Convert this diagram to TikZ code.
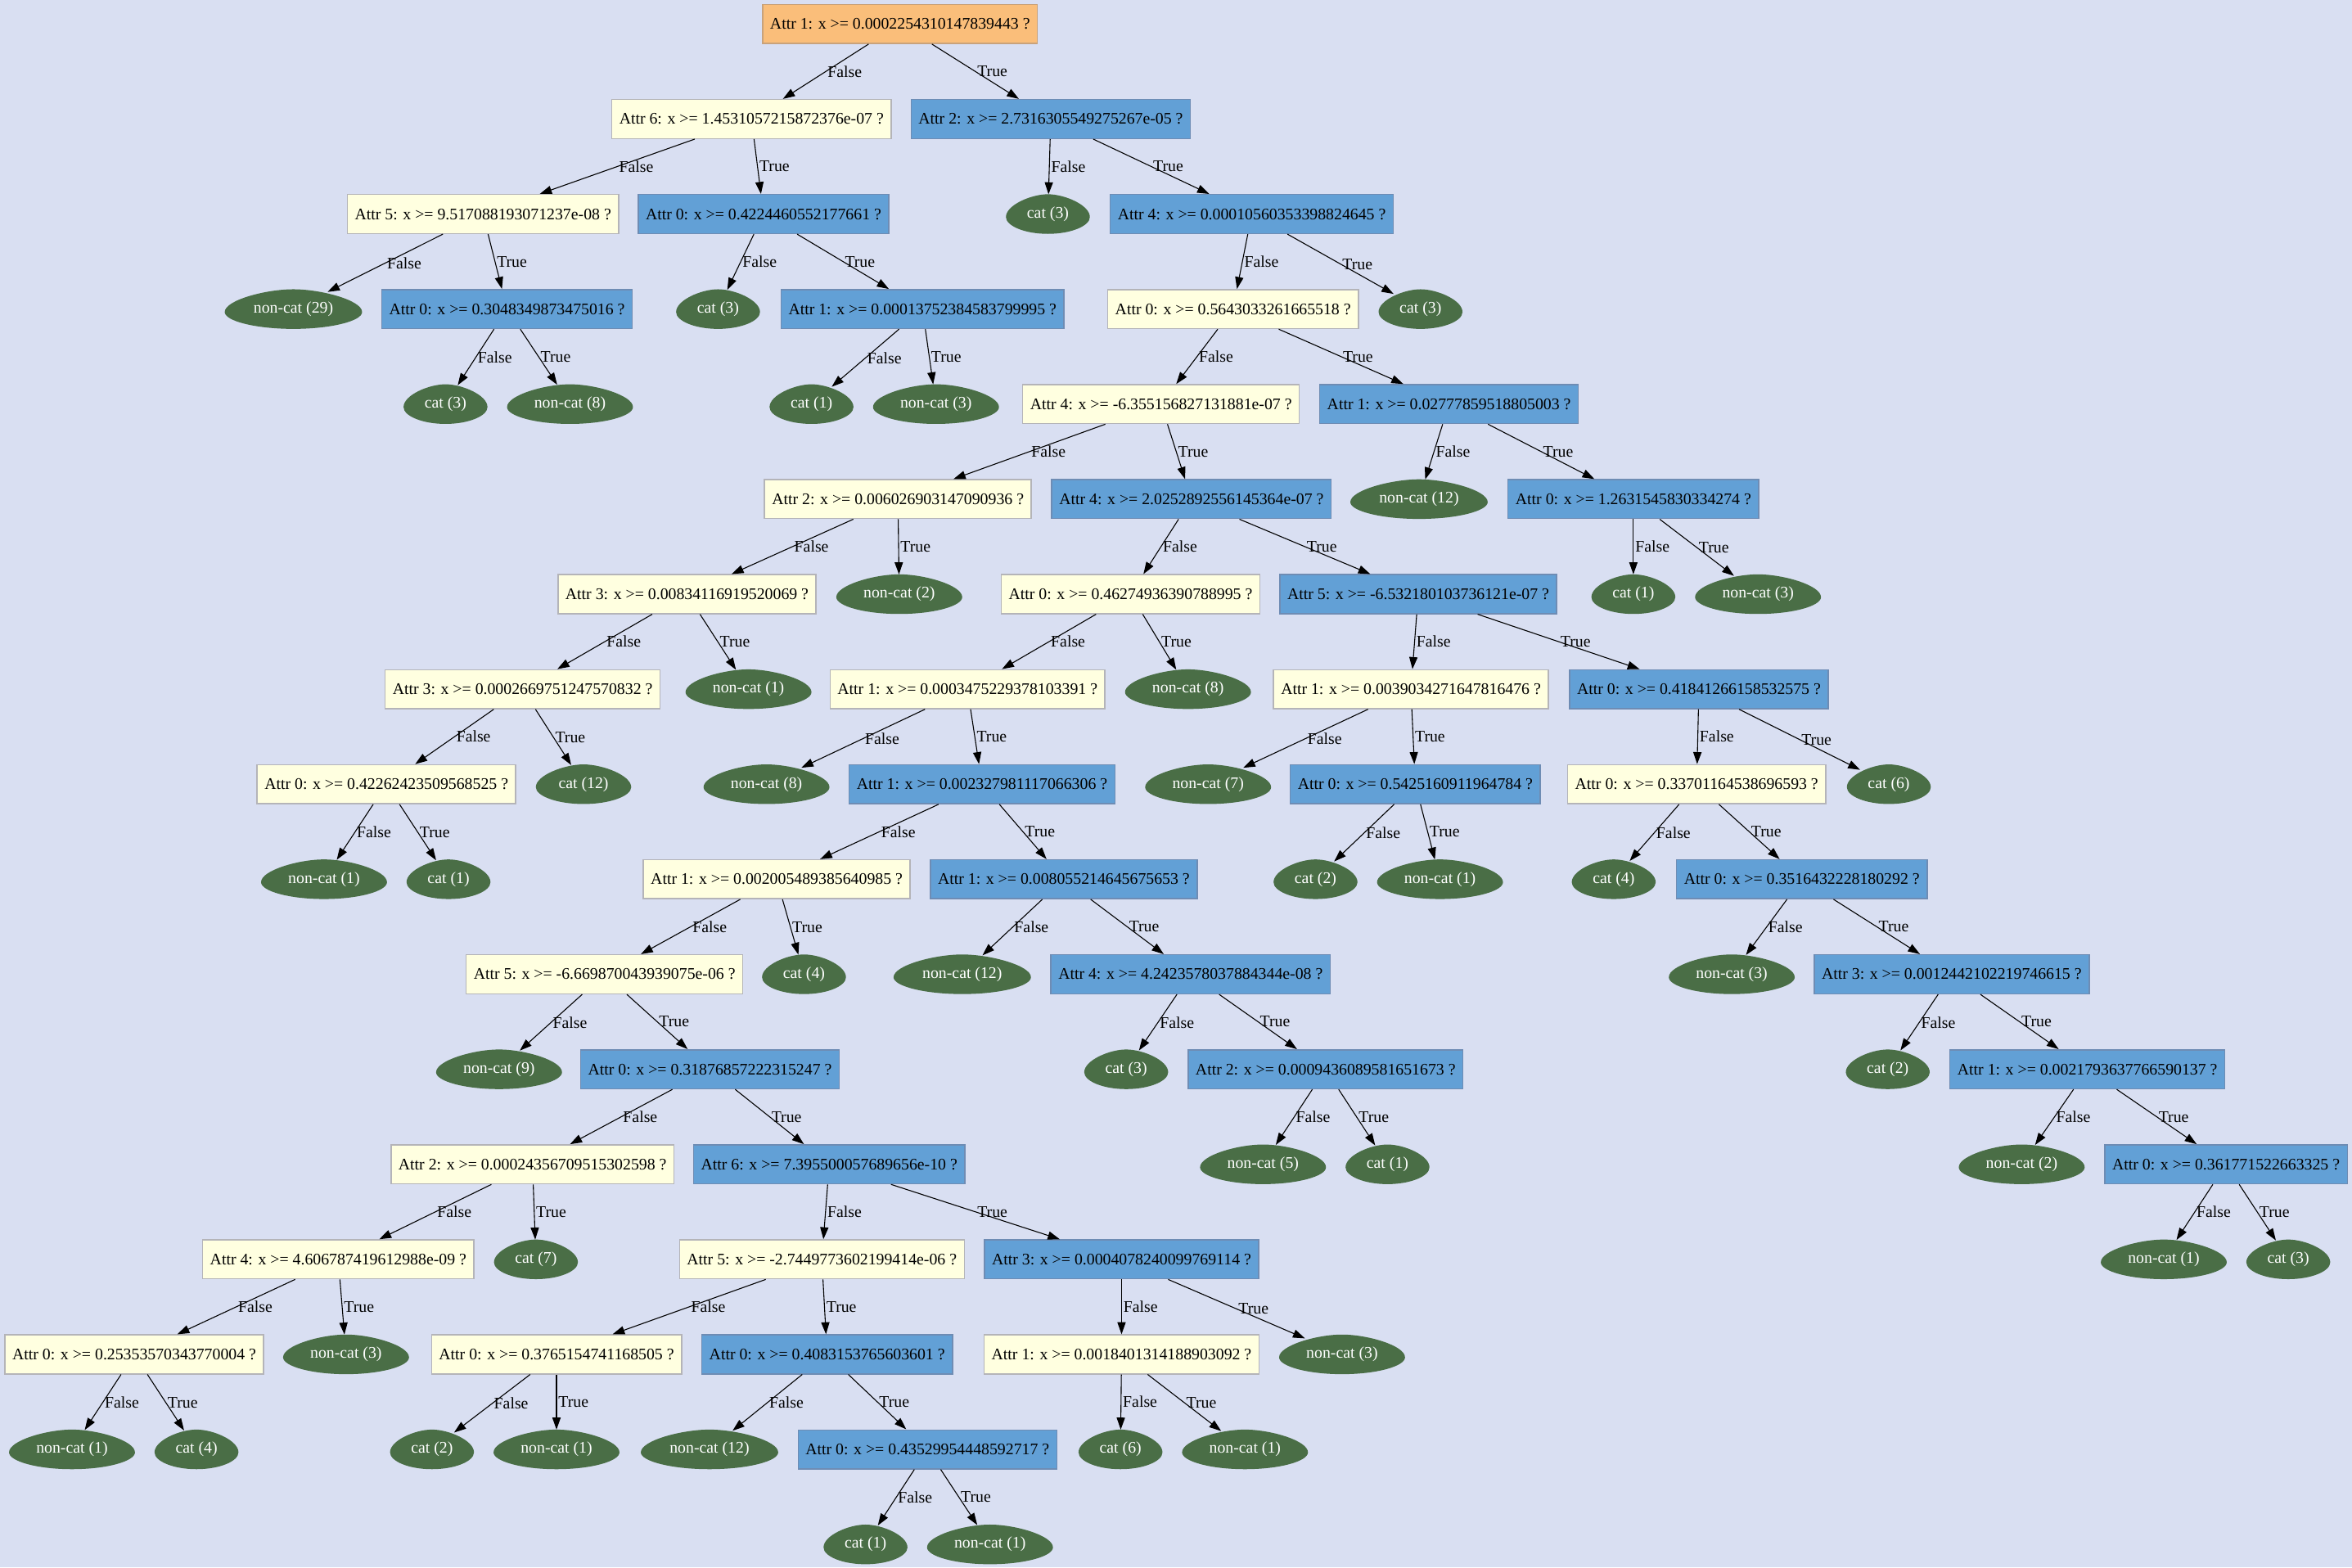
\documentclass[tikz,border=0pt]{standalone}
\usepackage{fontspec}
\setmainfont{Liberation Serif}
\usetikzlibrary{arrows.meta,shapes.geometric,backgrounds,calc}
\definecolor{bgblue}{HTML}{D9DFF2}
\definecolor{rootorange}{HTML}{FABE7A}
\definecolor{rootline}{HTML}{C9A27A}
\definecolor{paleyellow}{HTML}{FFFFE0}
\definecolor{paleline}{HTML}{B4B4B8}
\definecolor{splitblue}{HTML}{62A0D6}
\definecolor{blueline}{HTML}{6E8CB4}
\definecolor{leafgreen}{HTML}{4A6E46}
\newcommand\treefont{\fontsize{10.8}{12}\selectfont}
\newcommand\splitq[2]{Attr #1: x >= #2 ?}
\tikzset{
  qbox/.style={rectangle, line width=0.8pt, minimum height=26pt, inner xsep=5pt, inner ysep=0pt, font=\treefont},
  rootq/.style={qbox, fill=rootorange, draw=rootline},
  yellowq/.style={qbox, fill=paleyellow, draw=paleline},
  blueq/.style={qbox, fill=splitblue, draw=blueline},
  leaf/.style={ellipse, minimum height=26pt, inner xsep=5.7pt, inner ysep=0pt, text=white, font=\treefont},
  branch/.style={-{Triangle[length=8pt,width=5.5pt]}, line width=0.6pt},
  lbl/.style={anchor=west, inner sep=1pt, font=\treefont}
}

\begin{document}
\begin{tikzpicture}[x=1pt,y=-63.35pt]
\useasboundingbox (0,-0.2526) rectangle (1568,16.243);
% rank 0-3
\node[rootq] (r0a) at (600,0) {\splitq{1}{0.0002254310147839443}};
\node[yellowq] (r1a) at (501,1) {\splitq{6}{1.4531057215872376e-07}};
\node[blueq] (r1b) at (700.5,1) {\splitq{2}{2.7316305549275267e-05}};
\node[yellowq] (r2a) at (322,2) {\splitq{5}{9.517088193071237e-08}};
\node[blueq] (r2b) at (509,2) {\splitq{0}{0.4224460552177661}};
\node[leaf] (r2c) at (698.6,2) {cat (3)};
\node[blueq] (r2d) at (834.5,2) {\splitq{4}{0.00010560353398824645}};
\node[leaf] (r3a) at (195.6,3) {non-cat (29)};
\node[blueq] (r3b) at (338,3) {\splitq{0}{0.3048349873475016}};
\node[leaf] (r3c) at (478.7,3) {cat (3)};
\node[blueq] (r3d) at (615,3) {\splitq{1}{0.00013752384583799995}};
\node[yellowq] (r3e) at (822,3) {\splitq{0}{0.5643033261665518}};
\node[leaf] (r3f) at (947,3) {cat (3)};
% rank 4-7
\node[leaf] (r4a) at (297,4) {cat (3)};
\node[leaf] (r4b) at (380,4) {non-cat (8)};
\node[leaf] (r4c) at (541,4) {cat (1)};
\node[leaf] (r4d) at (624,4) {non-cat (3)};
\node[yellowq] (r4e) at (774,4) {\splitq{4}{-6.355156827131881e-07}};
\node[blueq] (r4f) at (966,4) {\splitq{1}{0.02777859518805003}};
\node[yellowq] (r5a) at (598.6,5) {\splitq{2}{0.006026903147090936}};
\node[blueq] (r5b) at (794.3,5) {\splitq{4}{2.0252892556145364e-07}};
\node[leaf] (r5c) at (946,5) {non-cat (12)};
\node[blueq] (r5d) at (1088.9,5) {\splitq{0}{1.2631545830334274}};
\node[yellowq] (r6a) at (458,6) {\splitq{3}{0.00834116919520069}};
\node[leaf] (r6b) at (599.5,6) {non-cat (2)};
\node[yellowq] (r6c) at (753.7,6) {\splitq{0}{0.46274936390788995}};
\node[blueq] (r6d) at (945.5,6) {\splitq{5}{-6.532180103736121e-07}};
\node[leaf] (r6e) at (1088.9,6) {cat (1)};
\node[leaf] (r6f) at (1172,6) {non-cat (3)};
\node[yellowq] (r7a) at (348.4,7) {\splitq{3}{0.0002669751247570832}};
\node[leaf] (r7b) at (499,7) {non-cat (1)};
\node[yellowq] (r7c) at (645,7) {\splitq{1}{0.0003475229378103391}};
\node[leaf] (r7d) at (792,7) {non-cat (8)};
\node[yellowq] (r7e) at (940.6,7) {\splitq{1}{0.0039034271647816476}};
\node[blueq] (r7f) at (1132.6,7) {\splitq{0}{0.41841266158532575}};
% rank 8-11
\node[yellowq] (r8a) at (257.6,8) {\splitq{0}{0.42262423509568525}};
\node[leaf] (r8b) at (389,8) {cat (12)};
\node[leaf] (r8c) at (511,8) {non-cat (8)};
\node[blueq] (r8d) at (654.7,8) {\splitq{1}{0.002327981117066306}};
\node[leaf] (r8e) at (805.4,8) {non-cat (7)};
\node[blueq] (r8f) at (943.5,8) {\splitq{0}{0.5425160911964784}};
\node[yellowq] (r8g) at (1131.1,8) {\splitq{0}{0.33701164538696593}};
\node[leaf] (r8h) at (1259.2,8) {cat (6)};
\node[leaf] (r9a) at (216,9) {non-cat (1)};
\node[leaf] (r9b) at (299,9) {cat (1)};
\node[yellowq] (r9c) at (517.8,9) {\splitq{1}{0.002005489385640985}};
\node[blueq] (r9d) at (709.2,9) {\splitq{1}{0.008055214645675653}};
\node[leaf] (r9e) at (877,9) {cat (2)};
\node[leaf] (r9f) at (960,9) {non-cat (1)};
\node[leaf] (r9g) at (1075.8,9) {cat (4)};
\node[blueq] (r9h) at (1201.2,9) {\splitq{0}{0.3516432228180292}};
\node[yellowq] (r10a) at (403,10) {\splitq{5}{-6.669870043939075e-06}};
\node[leaf] (r10b) at (536,10) {cat (4)};
\node[leaf] (r10c) at (641.5,10) {non-cat (12)};
\node[blueq] (r10d) at (793.7,10) {\splitq{4}{4.2423578037884344e-08}};
\node[leaf] (r10e) at (1154.5,10) {non-cat (3)};
\node[blueq] (r10f) at (1301.1,10) {\splitq{3}{0.0012442102219746615}};
\node[leaf] (r11a) at (332.7,11) {non-cat (9)};
\node[blueq] (r11b) at (473.3,11) {\splitq{0}{0.31876857222315247}};
\node[leaf] (r11c) at (750.8,11) {cat (3)};
\node[blueq] (r11d) at (883.7,11) {\splitq{2}{0.0009436089581651673}};
\node[leaf] (r11e) at (1258.5,11) {cat (2)};
\node[blueq] (r11f) at (1391.6,11) {\splitq{1}{0.0021793637766590137}};
% rank 12-16
\node[yellowq] (r12a) at (355,12) {\splitq{2}{0.00024356709515302598}};
\node[blueq] (r12b) at (552.8,12) {\splitq{6}{7.395500057689656e-10}};
\node[leaf] (r12c) at (842,12) {non-cat (5)};
\node[leaf] (r12d) at (925,12) {cat (1)};
\node[leaf] (r12e) at (1347.8,12) {non-cat (2)};
\node[blueq] (r12f) at (1484,12) {\splitq{0}{0.361771522663325}};
\node[yellowq] (r13a) at (225.5,13) {\splitq{4}{4.606787419612988e-09}};
\node[leaf] (r13b) at (357.3,13) {cat (7)};
\node[yellowq] (r13c) at (547.9,13) {\splitq{5}{-2.7449773602199414e-06}};
\node[blueq] (r13d) at (747.7,13) {\splitq{3}{0.0004078240099769114}};
\node[leaf] (r13e) at (1442.5,13) {non-cat (1)};
\node[leaf] (r13f) at (1525.5,13) {cat (3)};
\node[yellowq] (r14a) at (89.5,14) {\splitq{0}{0.25353570343770004}};
\node[leaf] (r14b) at (230.7,14) {non-cat (3)};
\node[yellowq] (r14c) at (371,14) {\splitq{0}{0.3765154741168505}};
\node[blueq] (r14d) at (551.4,14) {\splitq{0}{0.4083153765603601}};
\node[yellowq] (r14e) at (747.7,14) {\splitq{1}{0.0018401314188903092}};
\node[leaf] (r14f) at (894.7,14) {non-cat (3)};
\node[leaf] (r15a) at (48,15) {non-cat (1)};
\node[leaf] (r15b) at (131,15) {cat (4)};
\node[leaf] (r15c) at (288,15) {cat (2)};
\node[leaf] (r15d) at (371,15) {non-cat (1)};
\node[leaf] (r15e) at (473,15) {non-cat (12)};
\node[blueq] (r15f) at (618.3,15) {\splitq{0}{0.43529954448592717}};
\node[leaf] (r15g) at (747,15) {cat (6)};
\node[leaf] (r15h) at (830,15) {non-cat (1)};
\node[leaf] (r16a) at (577,16) {cat (1)};
\node[leaf] (r16b) at (660,16) {non-cat (1)};
% False branches
\foreach \p/\c in {r0a/r1a,r1a/r2a,r1b/r2c,r2a/r3a,r2b/r3c,r2d/r3e,r3b/r4a,r3d/r4c,r3e/r4e,
    r4e/r5a,r4f/r5c,r5a/r6a,r5b/r6c,r5d/r6e,r6a/r7a,r6c/r7c,r6d/r7e,r7a/r8a,r7c/r8c,r7e/r8e,
    r7f/r8g,r8a/r9a,r8d/r9c,r8f/r9e,r8g/r9g,r9c/r10a,r9d/r10c,r9h/r10e,r10a/r11a,r10d/r11c,
    r10f/r11e,r11b/r12a,r11d/r12c,r11f/r12e,r12a/r13a,r12b/r13c,r12f/r13e,r13a/r14a,r13c/r14c,
    r13d/r14e,r14a/r15a,r14c/r15c,r14d/r15e,r14e/r15g,r15f/r16a}
  \draw[branch] (\p) -- node[lbl] {False} (\c);
% True branches
\foreach \p/\c in {r0a/r1b,r1a/r2b,r1b/r2d,r2a/r3b,r2b/r3d,r2d/r3f,r3b/r4b,r3d/r4d,r3e/r4f,
    r4e/r5b,r4f/r5d,r5a/r6b,r5b/r6d,r5d/r6f,r6a/r7b,r6c/r7d,r6d/r7f,r7a/r8b,r7c/r8d,r7e/r8f,
    r7f/r8h,r8a/r9b,r8d/r9d,r8f/r9f,r8g/r9h,r9c/r10b,r9d/r10d,r9h/r10f,r10a/r11b,r10d/r11d,
    r10f/r11f,r11b/r12b,r11d/r12d,r11f/r12f,r12a/r13b,r12b/r13d,r12f/r13f,r13a/r14b,r13c/r14d,
    r13d/r14f,r14a/r15b,r14c/r15d,r14d/r15f,r14e/r15h,r15f/r16b}
  \draw[branch] (\p) -- node[lbl] {True} (\c);
\begin{scope}[on background layer]
\fill[bgblue] (0,-0.2526) rectangle (1568,16.243);
\end{scope}
% egg shaped leaves
\begin{scope}[on background layer]
\foreach \leaf in {r2c,r3a,r3c,r3f,r4a,r4b,r4c,r4d,r5c,r6b,r6e,r6f,r7b,r7d,r8b,r8c,r8e,r8h,
    r9a,r9b,r9e,r9f,r9g,r10b,r10c,r10e,r11a,r11c,r11e,r12c,r12d,r12e,r13b,r13e,r13f,r14b,
    r14f,r15a,r15b,r15c,r15d,r15e,r15g,r15h,r16a,r16b}
  \fill[leafgreen] let \p1=(\leaf.west), \p2=(\leaf.east), \p3=(\leaf.north), \p4=(\leaf.south) in
    ({0.5*(\x1)+0.5*(\x2)},\y4)
    .. controls ({0.225*(\x1)+0.775*(\x2)},\y4) and (\x2,{0.2*(\y3)+0.8*(\y4)}) .. (\x2,{0.425*(\y3)+0.575*(\y4)})
    .. controls (\x2,{0.725*(\y3)+0.275*(\y4)}) and ({0.3*(\x1)+0.7*(\x2)},\y3) .. ({0.5*(\x1)+0.5*(\x2)},\y3)
    .. controls ({0.7*(\x1)+0.3*(\x2)},\y3) and (\x1,{0.725*(\y3)+0.275*(\y4)}) .. (\x1,{0.425*(\y3)+0.575*(\y4)})
    .. controls (\x1,{0.2*(\y3)+0.8*(\y4)}) and ({0.775*(\x1)+0.225*(\x2)},\y4) .. cycle;
\end{scope}
\end{tikzpicture}
\end{document}
